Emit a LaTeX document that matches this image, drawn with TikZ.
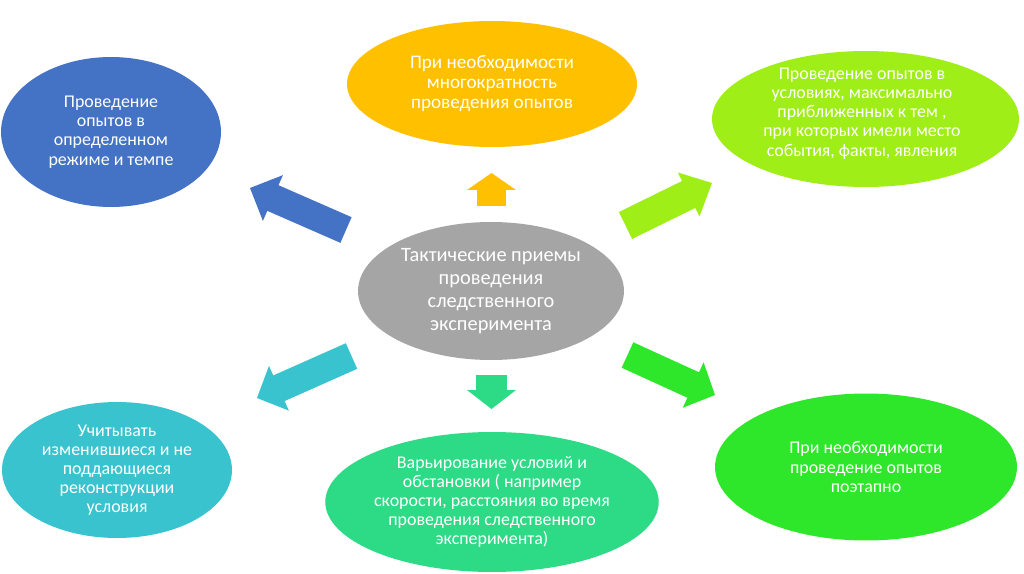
\documentclass[tikz,border=0pt]{standalone}
\usepackage{fontspec}
\setmainfont{Carlito}
\usetikzlibrary{shapes.geometric,calc}
\definecolor{cblue}{HTML}{4472C4}
\definecolor{cyellow}{HTML}{FFC000}
\definecolor{clime}{HTML}{A0EE18}
\definecolor{cgreen}{HTML}{2EE62A}
\definecolor{cteal}{HTML}{38C3CF}
\definecolor{cmint}{HTML}{2DDA85}
\definecolor{cgray}{HTML}{A5A5A5}
% #1 name, #2 tail (px), #3 tip (px), #4 shaft width, #5 head width, #6 head length, #7 colour
\newcommand\blockarrow[7]{%
  \coordinate (#1-tail) at #2;
  \coordinate (#1-tip) at #3;
  \coordinate (#1-base) at ($(#1-tip)!{#6*0.02cm}!(#1-tail)$);
  \fill[#7] ($(#1-tail)!{#4*0.01cm}!90:(#1-tip)$)
    -- ($(#1-base)!{#4*0.01cm}!90:(#1-tip)$)
    -- ($(#1-base)!{#5*0.01cm}!90:(#1-tip)$)
    -- (#1-tip)
    -- ($(#1-base)!{#5*0.01cm}!-90:(#1-tip)$)
    -- ($(#1-base)!{#4*0.01cm}!-90:(#1-tip)$)
    -- ($(#1-tail)!{#4*0.01cm}!-90:(#1-tip)$) -- cycle;}
\begin{document}
\begin{tikzpicture}[x=0.02cm,y=-0.02cm,
  bubble/.style={ellipse, inner sep=0pt, align=center, text=white,
    font=\fontsize{10.2}{10.9}\selectfont},
  txt/.style={inner sep=0pt, align=center, text=white,
    font=\fontsize{10.2}{10.9}\selectfont}]
\fill[white] (0,0) rectangle (1024,574);
\useasboundingbox (0,0) rectangle (1024,574);

% ellipses
\node[bubble, fill=cblue, minimum width=4.4cm, minimum height=3.0cm] (blue) at (111,132)
  {Проведение\\опытов в\\определенном\\режиме и темпе};
\node[bubble, fill=cyellow, minimum width=5.8cm, minimum height=2.52cm,
  font=\fontsize{10.9}{11.4}\selectfont] (yellow) at (492,84)
  {При необходимости\\многократность\\проведения опытов};
\node[bubble, fill=clime, minimum width=6.14cm, minimum height=2.72cm] (lime) at (865.5,119) {};
\node[txt] (limetext) at (862,113.5)
  {Проведение опытов в\\условиях, максимально\\приближенных к тем ,\\при которых имели место\\события, факты, явления};
\node[bubble, fill=cgray, minimum width=5.32cm, minimum height=2.76cm,
  font=\fontsize{11.6}{13.1}\selectfont] (center) at (491,291)
  {Тактические приемы\\проведения\\следственного\\эксперимента};
\node[bubble, fill=cteal, minimum width=4.6cm, minimum height=2.72cm] (teal) at (117,470)
  {Учитывать\\изменившиеся и не\\поддающиеся\\реконструкции\\условия};
\node[bubble, fill=cmint, minimum width=6.56cm, minimum height=2.8cm] (mint) at (492,502)
  {Варьирование условий и\\обстановки ( например\\скорости, расстояния во время\\проведения следственного\\эксперимента)};
\node[bubble, fill=cgreen, minimum width=6.04cm, minimum height=2.94cm] (green) at (866,467)
  {При необходимости\\проведение опытов\\поэтапно};

% block arrows
\blockarrow{ablue}{(346,230)}{(250,188)}{28}{50}{25}{cblue}
\blockarrow{ayellow}{(491.5,206)}{(491.5,173)}{29}{49}{17}{cyellow}
\blockarrow{alime}{(625.5,225.5)}{(712,183)}{30}{49}{26}{clime}
\blockarrow{agreen}{(627.5,355)}{(715,395)}{28}{50}{24}{cgreen}
\blockarrow{ateal}{(351.5,356)}{(257,398)}{28}{49}{24}{cteal}
\blockarrow{amint}{(491.5,375)}{(491.5,409)}{31}{49}{19}{cmint}
\end{tikzpicture}
\end{document}
